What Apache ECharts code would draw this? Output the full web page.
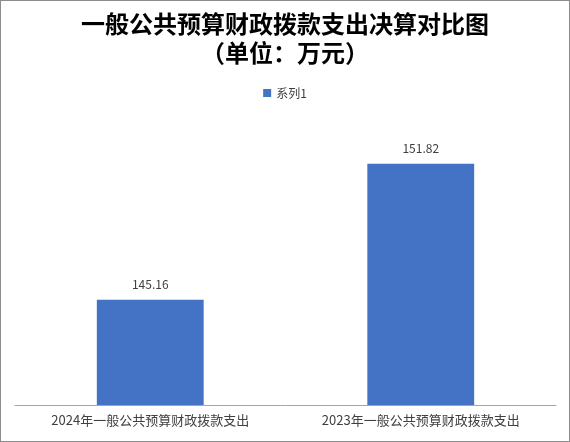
<!DOCTYPE html>
<html><head><meta charset="utf-8">
<script src="https://cdn.jsdelivr.net/npm/echarts@6/dist/echarts.min.js"></script>
<style>
html,body{margin:0;padding:0;background:#fff;}
#c{width:568px;height:440px;border:1px solid #8c8c8c;}
</style></head>
<body><div id="c"></div>
<script>
var categories = ['2024年一般公共预算财政拨款支出', '2023年一般公共预算财政拨款支出'];
var values = [145.16, 151.82];
var seriesName = '系列1';
var titleText = '一般公共预算财政拨款支出决算对比图\n（单位：万元）';

var chart = echarts.init(document.getElementById('c'));
chart.setOption({
  animation: false,
  textStyle: {fontFamily: 'Noto Sans CJK SC'},
  title: {
    text: titleText, left: 'center', top: 3,
    textStyle: {fontSize: 24, fontWeight: 'bold', color: '#000', lineHeight: 29, fontFamily: 'Noto Sans CJK SC'}
  },
  legend: {
    data: [seriesName], top: 81, left: 'center', itemWidth: 8, itemHeight: 8, itemGap: 5,
    icon: 'rect',
    textStyle: {fontSize: 12, color: '#404040'}
  },
  grid: {left: 14, right: 13, top: 98, bottom: 36},
  xAxis: {
    type: 'category', data: categories,
    axisLine: {lineStyle: {color: '#a6a6a6'}},
    axisTick: {show: false},
    axisLabel: {fontSize: 13, color: '#404040', margin: 9}
  },
  yAxis: {type: 'value', min: 140, max: 155, show: false, splitLine: {show: false}},
  series: [{
    name: seriesName, type: 'bar', data: values, barWidth: '39.5%',
    itemStyle: {color: '#4472c4'},
    label: {show: true, position: 'top', fontSize: 12, color: '#404040', distance: 9}
  }]
});
</script></body></html>
